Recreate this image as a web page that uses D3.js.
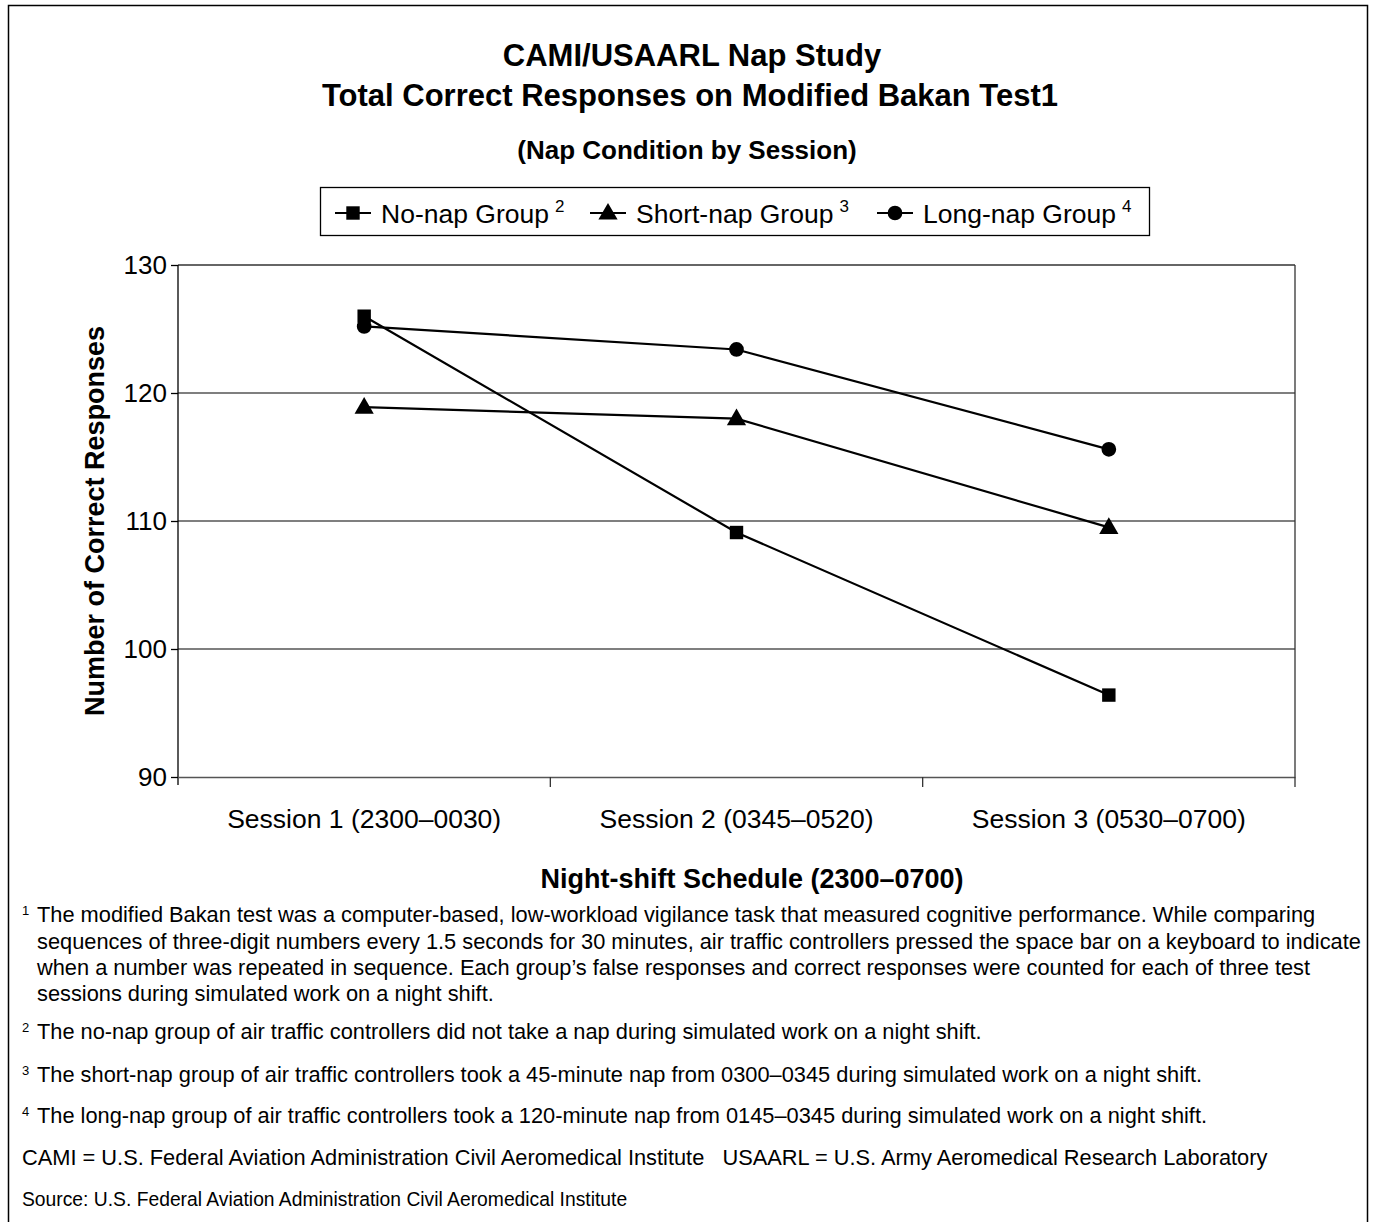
<!DOCTYPE html>
<html><head><meta charset="utf-8">
<script src="https://cdn.jsdelivr.net/npm/d3@7"></script>
<style>
body{margin:0;background:#fff;}
svg{display:block;font-family:"Liberation Sans",Arial,Helvetica,sans-serif;}
</style></head>
<body>
<svg id="c" width="1377" height="1222"></svg>
<script>
const sessions = ["Session 1 (2300–0030)", "Session 2 (0345–0520)", "Session 3 (0530–0700)"];
const noNap = [126.0, 109.1, 96.4];
const shortNap = [118.9, 118.0, 109.5];
const longNap = [125.2, 123.4, 115.6];
const seriesNames = ["No-nap Group", "Short-nap Group", "Long-nap Group"];
const seriesSup = ["2", "3", "4"];
const yTicks = [90, 100, 110, 120, 130];
const footnotes = [
  ["1", ["The modified Bakan test was a computer-based, low-workload vigilance task that measured cognitive performance. While comparing",
         "sequences of three-digit numbers every 1.5 seconds for 30 minutes, air traffic controllers pressed the space bar on a keyboard to indicate",
         "when a number was repeated in sequence. Each group’s false responses and correct responses were counted for each of three test",
         "sessions during simulated work on a night shift."]],
  ["2", ["The no-nap group of air traffic controllers did not take a nap during simulated work on a night shift."]],
  ["3", ["The short-nap group of air traffic controllers took a 45-minute nap from 0300–0345 during simulated work on a night shift."]],
  ["4", ["The long-nap group of air traffic controllers took a 120-minute nap from 0145–0345 during simulated work on a night shift."]]
];
const abbrevLine = "CAMI = U.S. Federal Aviation Administration Civil Aeromedical Institute   USAARL = U.S. Army Aeromedical Research Laboratory";
const sourceLine = "Source: U.S. Federal Aviation Administration Civil Aeromedical Institute";

const svg = d3.select("#c");
svg.append("rect").attr("x", 8.5).attr("y", 5.5).attr("width", 1359).attr("height", 1220)
  .attr("fill", "none").attr("stroke", "#000").attr("stroke-width", 1.5);

svg.append("text").attr("x", 692).attr("y", 66).attr("text-anchor", "middle")
  .attr("font-size", 31).attr("font-weight", "bold").text("CAMI/USAARL Nap Study");
svg.append("text").attr("x", 690).attr("y", 106).attr("text-anchor", "middle")
  .attr("font-size", 31).attr("font-weight", "bold").text("Total Correct Responses on Modified Bakan Test1");
svg.append("text").attr("x", 687).attr("y", 159).attr("text-anchor", "middle")
  .attr("font-size", 26).attr("font-weight", "bold").text("(Nap Condition by Session)");

const L = 178, R = 1295, T = 265, B = 777;
const x = d3.scaleBand().domain(sessions).range([L, R]);
const y = d3.scaleLinear().domain([90, 130]).range([B, T]);

const g = svg.append("g");
g.selectAll("line.grid").data(yTicks.filter(v => v > 90 && v < 130)).join("line")
  .attr("x1", L).attr("x2", R).attr("y1", d => y(d)).attr("y2", d => y(d))
  .attr("stroke", "#555").attr("stroke-width", 1.3);
g.append("line").attr("x1", L).attr("x2", R).attr("y1", y(130)).attr("y2", y(130)).attr("stroke", "#333").attr("stroke-width", 1.3);
g.append("line").attr("x1", R).attr("x2", R).attr("y1", y(130)).attr("y2", B).attr("stroke", "#333").attr("stroke-width", 1.3);

const yAxis = svg.append("g").attr("transform", `translate(${L},0)`)
  .call(d3.axisLeft(y).tickValues(yTicks).tickSize(7).tickPadding(4).tickSizeOuter(0));
yAxis.select(".domain").attr("stroke", "#000").attr("stroke-width", 1.3).attr("d", `M0,${T}V${B + 8}`);
yAxis.selectAll(".tick line").attr("stroke", "#000").attr("stroke-width", 1.3);
yAxis.selectAll(".tick text").attr("font-size", 26).attr("fill", "#000").attr("font-family", "Liberation Sans, Arial, sans-serif");

const xAxis = svg.append("g").attr("transform", `translate(0,${B})`)
  .call(d3.axisBottom(x).tickSize(0).tickPadding(32).tickSizeOuter(0));
xAxis.select(".domain").attr("stroke", "#555").attr("stroke-width", 1.3);
xAxis.selectAll(".tick text").attr("font-size", 26.5).attr("fill", "#000").attr("font-family", "Liberation Sans, Arial, sans-serif");
xAxis.selectAll("line.bt").data(sessions.slice(1).concat(["end"])).join("line")
  .attr("x1", (d, i) => i < 2 ? x(d) : R).attr("x2", (d, i) => i < 2 ? x(d) : R)
  .attr("y1", 0).attr("y2", 10).attr("stroke", "#333").attr("stroke-width", 1.3);

svg.append("text").attr("transform", `translate(104,${(T + B) / 2}) rotate(-90)`).attr("text-anchor", "middle")
  .attr("font-size", 27).attr("font-weight", "bold").text("Number of Correct Responses");
svg.append("text").attr("x", 752).attr("y", 888).attr("text-anchor", "middle")
  .attr("font-size", 27).attr("font-weight", "bold").text("Night-shift Schedule (2300–0700)");

const series = [noNap, shortNap, longNap];
const shapes = [d3.symbolSquare, d3.symbolTriangle, d3.symbolCircle];
const sizes = [180, 160, 170];
const cx = s => x(s) + x.bandwidth() / 2;
const line = d3.line().x((d, i) => cx(sessions[i])).y(d => y(d));
const sg = svg.append("g");
series.forEach((vals, k) => {
  sg.append("path").attr("d", line(vals)).attr("fill", "none").attr("stroke", "#000").attr("stroke-width", 2.2);
  sg.selectAll(null).data(vals).join("path")
    .attr("transform", (d, i) => `translate(${cx(sessions[i])},${y(d) + (k === 1 ? 1 : 0)})`)
    .attr("d", d3.symbol().type(shapes[k]).size(sizes[k])).attr("fill", "#000");
});

svg.append("rect").attr("x", 320.5).attr("y", 187.5).attr("width", 829).attr("height", 48)
  .attr("fill", "#fff").attr("stroke", "#000").attr("stroke-width", 1.3);
const legX = [335, 590, 877];
const lg = svg.append("g");
seriesNames.forEach((name, k) => {
  const x0 = legX[k], yy = 213;
  lg.append("line").attr("x1", x0).attr("x2", x0 + 36).attr("y1", yy).attr("y2", yy).attr("stroke", "#000").attr("stroke-width", 2.2);
  lg.append("path").attr("transform", `translate(${x0 + 18},${yy + (k === 1 ? 1 : 0)})`)
    .attr("d", d3.symbol().type(shapes[k]).size(sizes[k])).attr("fill", "#000");
  const t = lg.append("text").attr("x", x0 + 46).attr("y", yy + 10).attr("font-size", 26.5);
  t.append("tspan").text(name);
  t.append("tspan").attr("dx", 6).attr("dy", -11).attr("font-size", 17).text(seriesSup[k]);
});

const fg = svg.append("g");
const fnBase = [[922, 949, 975, 1001], [1039], [1082], [1123]];
footnotes.forEach((fn, i) => {
  fg.append("text").attr("x", 22).attr("y", fnBase[i][0] - 7).attr("font-size", 13).text(fn[0]);
  fn[1].forEach((ln, j) => {
    fg.append("text").attr("x", 37).attr("y", fnBase[i][j]).attr("font-size", 21.8).text(ln);
  });
});
fg.append("text").attr("x", 22).attr("y", 1165).attr("font-size", 21.8).style("white-space", "pre").text(abbrevLine);
fg.append("text").attr("x", 22).attr("y", 1206).attr("font-size", 19.3).text(sourceLine);
</script>
</body></html>
